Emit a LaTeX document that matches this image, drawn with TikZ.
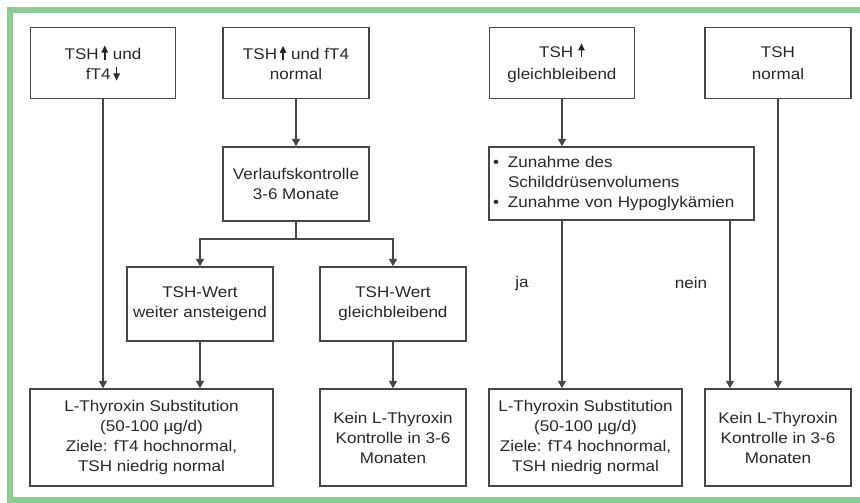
\documentclass[tikz,border=0pt]{standalone}
\usepackage{fontspec}
\setmainfont{Liberation Sans}[FakeStretch=1.1]
\usetikzlibrary{arrows.meta,calc}
\definecolor{framegreen}{RGB}{140,204,144}
\definecolor{ink}{RGB}{40,40,40}
\definecolor{lin}{RGB}{70,70,70}
\newcommand\uparr{\tikz[baseline=0pt]{\fill[ink] (-0.8pt,0pt) rectangle (0.8pt,8pt); \fill[ink] (-3.4pt,7pt) -- (3.4pt,7pt) -- (0pt,14pt) -- cycle;}}
\newcommand\dnarr{\tikz[baseline=0pt]{\fill[ink] (-0.8pt,5pt) rectangle (0.8pt,12.5pt); \fill[ink] (-3.4pt,6pt) -- (3.4pt,6pt) -- (0pt,-1pt) -- cycle;}}
\begin{document}
\begin{tikzpicture}[x=1pt,y=-1pt,
  box/.style={draw=lin,line width=1.5pt,inner sep=0pt,align=center,text=ink,
    font=\fontsize{15.5}{20}\selectfont},
  lbl/.style={inner sep=0pt,text=ink,font=\fontsize{15.5}{20}\selectfont},
  arr/.style={draw=lin,line width=1.5pt,-{Triangle[width=8pt,length=7.5pt]}},
  ln/.style={draw=lin,line width=1.5pt}]
\useasboundingbox (0,0) rectangle (860,503);
\clip (0,0) rectangle (860,503);
\fill[white] (0,0) rectangle (860,503);
\draw[framegreen, line width=6pt] (880,10) -- (10,10) -- (10,500) -- (880,500);

% top row
\node[box, minimum width=145pt, minimum height=71pt] (A) at (103,63) {TSH\,\uparr\ und\\fT4\,\dnarr};
\node[box, minimum width=146pt, minimum height=71pt] (B) at (296,63) {TSH\,\uparr\ und fT4\\normal};
\node[box, minimum width=145pt, minimum height=71pt] (C) at (562,63) {TSH \uparr\\[2pt]gleichbleibend};
\node[box, minimum width=146pt, minimum height=71pt] (D) at (778,63) {TSH\\[2pt]normal};

% middle
\node[box, minimum width=146pt, minimum height=74pt] (V) at (296,184) {Verlaufskontrolle\\3-6 Monate};
\node[box, minimum width=265pt, minimum height=73pt, align=left, text width=257pt, inner xsep=4pt] (Z) at (621.5,183.5)
  {\makebox[15pt][l]{\textbullet}Zunahme des\\\hspace*{15pt}Schilddrüsenvolumens\\\makebox[15pt][l]{\textbullet}Zunahme von Hypoglykämien};
\node[box, minimum width=146pt, minimum height=74pt] (W1) at (200,304) {TSH-Wert\\weiter ansteigend};
\node[box, minimum width=146pt, minimum height=74pt] (W2) at (393,304) {TSH-Wert\\gleichbleibend};

% bottom row
\node[box, minimum width=243pt, minimum height=97pt] (L1) at (151.5,437.5) {L-Thyroxin Substitution\\(50-100 µg/d)\\Ziele: fT4 hochnormal,\\TSH niedrig normal};
\node[box, minimum width=146pt, minimum height=97pt] (K1) at (393,437.5) {Kein L-Thyroxin\\Kontrolle in 3-6\\Monaten};
\node[box, minimum width=193pt, minimum height=97pt] (L2) at (585.5,437.5) {L-Thyroxin Substitution\\(50-100 µg/d)\\Ziele: fT4 hochnormal,\\TSH niedrig normal};
\node[box, minimum width=146pt, minimum height=97pt] (K2) at (778,437.5) {Kein L-Thyroxin\\Kontrolle in 3-6\\Monaten};

% labels
\node[lbl] (ja) at (522,283) {ja};
\node[lbl] (nein) at (691,283) {nein};

% connectors
\draw[arr] (A.south) -- (A.south |- L1.north);
\draw[arr] (B.south) -- (V.north);
\coordinate (vj) at (296,239);
\draw[ln] (V.south) -- (vj);
\draw[arr] (vj) -| (W1.north);
\draw[arr] (vj) -| (W2.north);
\draw[arr] (W1.south) -- (W1.south |- L1.north);
\draw[arr] (W2.south) -- (K1.north);
\draw[arr] (C.south) -- (C.south |- Z.north);
\draw[arr] (Z.south -| C.south) -- (C.south |- L2.north);
\coordinate (zn) at (Z.south -| 730,0);
\draw[arr] (zn) -- (zn |- K2.north);
\draw[arr] (D.south) -- (D.south |- K2.north);
\end{tikzpicture}
\end{document}
